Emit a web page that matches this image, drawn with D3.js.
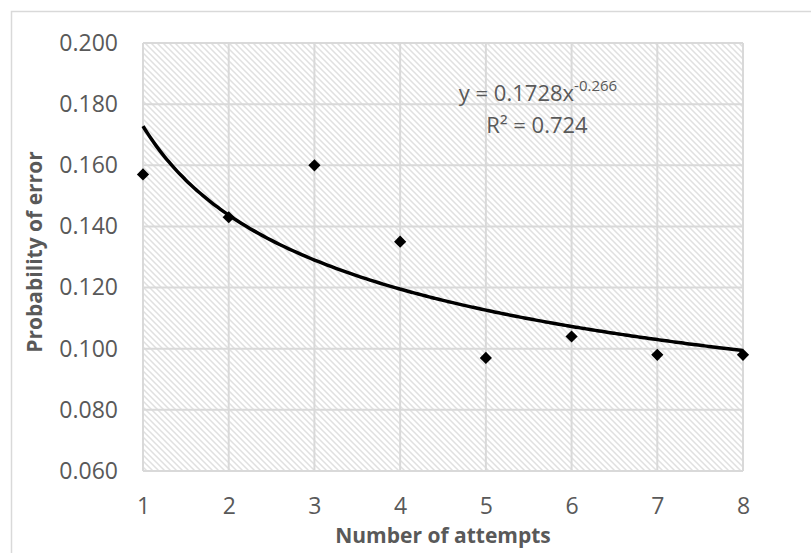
<!DOCTYPE html>
<html><head><meta charset="utf-8">
<script src="https://cdn.jsdelivr.net/npm/d3@7"></script>
<style>body{margin:0;background:#fff;} svg{display:block;}</style>
</head><body>
<svg id="c" width="811" height="553"></svg>
<script>
const attempts = [1, 2, 3, 4, 5, 6, 7, 8];
const probError = [0.157, 0.143, 0.160, 0.135, 0.097, 0.104, 0.098, 0.098];
const yTicks = [0.060, 0.080, 0.100, 0.120, 0.140, 0.160, 0.180, 0.200];
const fitA = 0.1728, fitB = -0.266;
const eqText = "y = 0.1728x", eqSup = "-0.266", r2Text = "R² = 0.724";
const xTitle = "Number of attempts", yTitle = "Probability of error";

const svg = d3.select("#c");
const L = 143, R = 743, T = 43, B = 471;
const x = d3.scaleLinear().domain([1, 8]).range([L, R]);
const y = d3.scaleLinear().domain([0.06, 0.2]).range([B, T]);
const grey = "#595959", gridC = "#d9d9d9";
const font = "'Open Sans', sans-serif";

// outer border
svg.append("rect").attr("x", 11.5).attr("y", 11.5).attr("width", 811).attr("height", 560)
  .attr("fill", "#fff").attr("stroke", "#d9d9d9").attr("stroke-width", 1.5);

const defs = svg.append("defs");
const pat = defs.append("pattern").attr("id", "hatch").attr("patternUnits", "userSpaceOnUse")
  .attr("width", 6).attr("height", 6);
pat.append("rect").attr("width", 6).attr("height", 6).attr("fill", "#fff");
pat.append("path").attr("d", "M0,0L6,6M-1,5L1,7M5,-1L7,1")
  .attr("stroke", "#e0e0e0").attr("stroke-width", 1.5);

svg.append("rect").attr("x", L).attr("y", T).attr("width", R - L).attr("height", B - T)
  .attr("fill", "url(#hatch)");

// grid
svg.append("g").selectAll("line").data(yTicks).join("line")
  .attr("x1", L).attr("x2", R).attr("y1", d => y(d)).attr("y2", d => y(d))
  .attr("stroke", gridC).attr("stroke-width", 2);
svg.append("g").selectAll("line").data(attempts).join("line")
  .attr("y1", T).attr("y2", B).attr("x1", d => x(d)).attr("x2", d => x(d))
  .attr("stroke", gridC).attr("stroke-width", 2);

// axes (labels only)
const ya = svg.append("g").attr("transform", `translate(${L},0)`)
  .call(d3.axisLeft(y).tickValues(yTicks).tickFormat(d3.format(".3f")).tickSize(0).tickPadding(25));
ya.select(".domain").remove();
ya.selectAll("text").attr("font-family", font).attr("font-size", 23).attr("fill", grey);
const xa = svg.append("g").attr("transform", `translate(0,${B})`)
  .call(d3.axisBottom(x).tickValues(attempts).tickFormat(d3.format("d")).tickSize(0).tickPadding(27));
xa.select(".domain").remove();
xa.selectAll("text").attr("font-family", font).attr("font-size", 23).attr("fill", grey);

// trend line
const fx = d3.range(1, 8.001, 0.05);
svg.append("path").datum(fx)
  .attr("d", d3.line().x(d => x(d)).y(d => y(fitA * Math.pow(d, fitB))).curve(d3.curveBasis))
  .attr("fill", "none").attr("stroke", "#000").attr("stroke-width", 3.5);

// markers
svg.append("g").selectAll("path").data(attempts).join("path")
  .attr("transform", (d, i) => `translate(${x(d)},${y(probError[i])})`)
  .attr("d", d3.symbol(d3.symbolDiamond2, 95)).attr("fill", "#000");

// equation
const eq = svg.append("text").attr("x", 538).attr("y", 101).attr("text-anchor", "middle")
  .attr("font-family", font).attr("font-size", 22).attr("fill", grey);
eq.append("tspan").text(eqText);
eq.append("tspan").attr("dy", -10).attr("font-size", 15).text(eqSup);
svg.append("text").attr("x", 537).attr("y", 133).attr("text-anchor", "middle")
  .attr("font-family", font).attr("font-size", 22).attr("fill", grey).text(r2Text);

// titles
svg.append("text").attr("x", 443).attr("y", 543).attr("text-anchor", "middle")
  .attr("font-family", font).attr("font-weight", "bold").attr("font-size", 21).attr("fill", grey)
  .text(xTitle);
svg.append("text").attr("transform", `translate(42,252) rotate(-90)`)
  .attr("text-anchor", "middle")
  .attr("font-family", font).attr("font-weight", "bold").attr("font-size", 21).attr("fill", grey)
  .text(yTitle);
</script>
</body></html>
